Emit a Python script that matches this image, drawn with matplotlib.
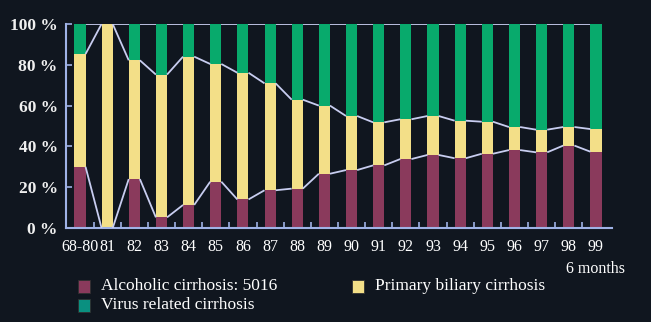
import numpy as np
import matplotlib
matplotlib.use("Agg")
from matplotlib import pyplot as plt
from matplotlib.patches import Rectangle

years = ['68-80', '81', '82', '83', '84', '85', '86', '87', '88', '89',
         '90', '91', '92', '93', '94', '95', '96', '97', '98', '99']
# cumulative tops (percent)
alcoholic = [30.0, 0.0, 24.0, 5.2, 11.3, 22.7, 14.0, 18.5, 19.3, 26.6,
             28.4, 30.7, 33.8, 35.8, 34.2, 36.4, 38.2, 37.1, 40.4, 37.4]
alc_plus_pbc = [85.3, 100.0, 82.2, 75.2, 84.0, 80.4, 76.1, 70.9, 62.9, 60.0,
                54.9, 51.8, 53.3, 54.9, 52.6, 52.1, 49.5, 48.2, 49.5, 48.5]
labels = ['Alcoholic cirrhosis: 5016', 'Primary biliary cirrhosis',
          'Virus related cirrhosis']

bg = '#10161f'
c_alc = '#8a3a5c'
c_pbc = '#f3df88'
c_vir = '#08aa6c'
c_line = '#c8cdf0'
c_axis = '#9fb2e6'

plt.rcParams['font.family'] = ['Liberation Serif', 'DejaVu Serif']

alcoholic = np.array(alcoholic)
alc_plus_pbc = np.array(alc_plus_pbc)
pbc = alc_plus_pbc - alcoholic
virus = 100 - alc_plus_pbc

fig = plt.figure(figsize=(6.51, 3.22), dpi=100, facecolor=bg)
ax = fig.add_axes([66 / 651, 94 / 322, 546 / 651, 204 / 322], facecolor=bg)

x = np.arange(len(years))
w = 0.41
ax.bar(x, alcoholic, w, color=c_alc, zorder=2)
ax.bar(x, pbc, w, bottom=alcoholic, color=c_pbc, zorder=2)
ax.bar(x, virus, w, bottom=alc_plus_pbc, color=c_vir, zorder=2)

# connecting lines in the gaps between bars
for top in (alcoholic, alc_plus_pbc, np.full(len(x), 100.0)):
    for i in range(len(x) - 1):
        ax.plot([x[i] + w / 2, x[i + 1] - w / 2], [top[i], top[i + 1]],
                color=c_line, lw=1.3, zorder=3, solid_capstyle='butt')

ax.set_xlim(-0.515, 19.59)
ax.set_ylim(0, 100)
for s in ('top', 'right'):
    ax.spines[s].set_visible(False)
for s in ('left', 'bottom'):
    ax.spines[s].set_color(c_axis)
    ax.spines[s].set_linewidth(1.5)

ax.set_xticks(x)
ax.set_xticklabels(years, color='white', fontsize=11.5)
ax.set_xticks(x[:-1] + 0.5, minor=True)
ax.tick_params(axis='x', which='major', length=0, pad=8)
ax.tick_params(axis='x', which='minor', direction='in', length=4,
               color=c_axis, width=1.2)

ax.set_yticks([0, 20, 40, 60, 80, 100])
ax.set_yticklabels(['0 %', '20 %', '40 %', '60 %', '80 %', '100 %'],
                   color='#f0f0f0', fontsize=12.5, fontweight='bold')
ax.tick_params(axis='y', direction='in', length=4, color=c_axis, width=1.2,
               pad=6)

fig.text(596 / 651, 1 - 269 / 322, '6 months', color='white', fontsize=11.5,
         ha='center', va='center')

# legend
leg = [(78, 286, c_alc, labels[0]), (352, 286, c_pbc, labels[1]),
       (78, 305, '#0a9080', labels[2])]
for px, py, col, txt in leg:
    fig.patches.append(Rectangle((px / 651, 1 - (py + 6.5) / 322), 12 / 651,
                                 13 / 322, transform=fig.transFigure,
                                 facecolor=col, edgecolor='#303030', lw=0.6))
    fig.text((px + 23) / 651, 1 - py / 322, txt, color='white', fontsize=12.5,
             ha='left', va='center')

fig.savefig('out.png', dpi=100, facecolor=bg)
